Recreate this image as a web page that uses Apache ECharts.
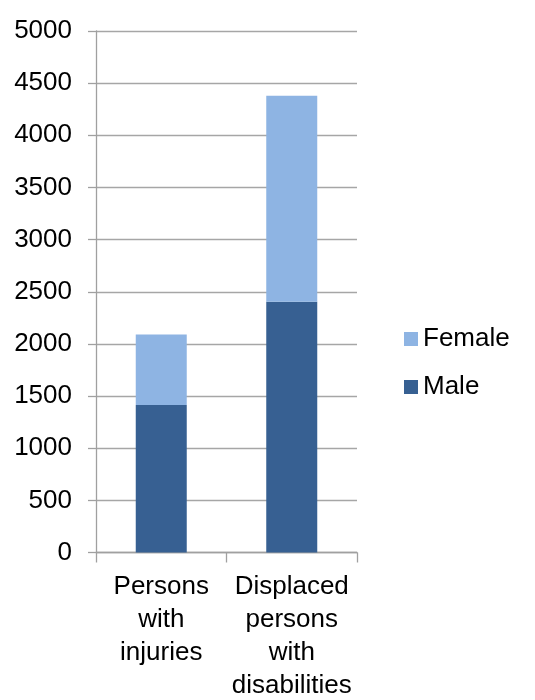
<!DOCTYPE html>
<html>
<head>
<meta charset="utf-8">
<script src="https://cdn.jsdelivr.net/npm/echarts@6/dist/echarts.min.js"></script>
<style>
html,body{margin:0;padding:0;background:#fff;}
#c{width:535px;height:700px;}
</style>
</head>
<body>
<div id="c"></div>
<script>
var categories = ['Persons\nwith\ninjuries', 'Displaced\npersons\nwith\ndisabilities'];
var maleValues = [1415, 2405];
var femaleValues = [675, 1975];
var seriesNames = ['Female', 'Male'];

var chart = echarts.init(document.getElementById('c'));
var font = 'Liberation Sans, Arial, sans-serif';
chart.setOption({
  animation: false,
  textStyle: { fontFamily: font },
  grid: { left: 96, right: 178, top: 31, bottom: 147.5, containLabel: false, outerBoundsMode: 'none' },
  legend: {
    orient: 'vertical',
    left: 399,
    top: 321,
    itemWidth: 14,
    itemHeight: 14,
    itemGap: 22,
    icon: 'rect',
    data: seriesNames,
    textStyle: { fontFamily: font, fontSize: 26, color: '#000', lineHeight: 26 }
  },
  xAxis: {
    type: 'category',
    data: categories,
    axisLine: { lineStyle: { color: '#A0A0A0', width: 1.3 } },
    axisTick: { show: true, length: 10, alignWithLabel: false, lineStyle: { color: '#A0A0A0', width: 1.3 } },
    axisLabel: { fontFamily: font, fontSize: 26, color: '#000', lineHeight: 33, margin: 18, interval: 0 }
  },
  yAxis: {
    type: 'value',
    min: 0, max: 5000, interval: 500,
    axisLine: { show: true, lineStyle: { color: '#A0A0A0', width: 1.3 } },
    axisTick: { show: true, length: 8, lineStyle: { color: '#A0A0A0', width: 1.3 } },
    splitLine: { show: true, lineStyle: { color: '#A6A6A6', width: 1.3 } },
    axisLabel: { fontFamily: font, fontSize: 26, color: '#000', margin: 24, formatter: function (v) { return String(v); } }
  },
  series: [
    {
      name: 'Male', type: 'bar', stack: 'total', barWidth: 51,
      data: maleValues,
      itemStyle: { color: '#376092' }
    },
    {
      name: 'Female', type: 'bar', stack: 'total', barWidth: 51,
      data: femaleValues,
      itemStyle: { color: '#8EB4E3' }
    }
  ]
});
</script>
</body>
</html>
